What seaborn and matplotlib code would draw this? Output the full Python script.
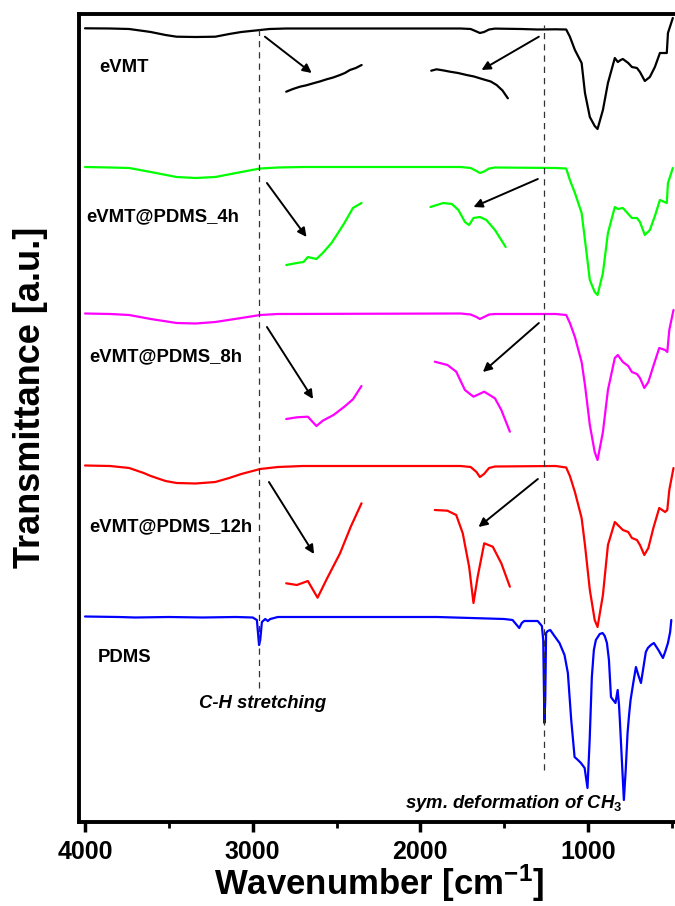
import matplotlib
matplotlib.use("Agg")
import matplotlib.pyplot as plt
import pandas as pd
import seaborn as sns
from matplotlib.ticker import MultipleLocator

# ---------------------------------------------------------------- data
samples = ["eVMT", "eVMT@PDMS_4h", "eVMT@PDMS_8h", "eVMT@PDMS_12h", "PDMS"]
colors = ["#000000", "#00FF00", "#FF00FF", "#FF0000", "#0000FF"]
# vertical stacking of the spectra (a.u.)
offsets = [793.5, 655, 508, 356, 205]

# full spectra: wavenumber (cm-1) and transmittance relative to baseline (a.u.)
wn_evmt = [4000, 3850, 3737, 3650, 3608, 3520, 3454, 3340, 3223, 3140, 3068, 2955,
           2900, 2800, 2200, 1760, 1700, 1665, 1645, 1620, 1590, 1555, 1400, 1300,
           1193, 1130, 1108, 1078, 1038, 1018, 989, 960, 943, 911, 881, 840, 822,
           805, 792, 760, 738, 708, 690, 661, 631, 601, 571, 530, 523, 494]
t_evmt = [0.2, 0, -0.5, -2.5, -3.5, -6.5, -8.2, -8.5, -8.2, -5.5, -3.5, -1.5,
          -0.5, 0, 0, 0, -0.5, -3, -4.5, -3.5, -1, -0.1, -0.5, -1,
          -0.8, -1, -8.2, -21.5, -34.5, -64.5, -88.5, -97.5, -100.5, -81.5, -54.5, -29.5, -33.5,
          -31.5, -30.5, -34.5, -38.5, -39.5, -43.5, -52.5, -48.5, -38.5, -24.5, -24.5, -4.5, 10.5]

wn_4h = [4000, 3850, 3737, 3608, 3454, 3340, 3223, 3068, 2955, 2850, 2700, 1760,
         1700, 1665, 1645, 1620, 1590, 1555, 1193, 1130, 1108, 1078, 1038, 1018,
         989, 960, 943, 911, 881, 840, 822, 792, 738, 708, 690, 661, 631, 601,
         571, 530, 523, 494]
t_4h = [0, -0.5, -1, -5, -10, -11, -10, -5, -1.5, -0.5, 0, 0,
        -1, -4, -6, -4.5, -1.5, -0.5, -1, -1.5, -13, -26, -46, -73,
        -113, -125, -128, -106, -66, -40, -42, -41, -51, -51, -55, -68, -63, -49,
        -33, -36, -16, -1]

wn_8h = [4000, 3850, 3737, 3608, 3454, 3340, 3223, 3068, 2955, 2850, 1760, 1700,
         1665, 1645, 1620, 1590, 1555, 1193, 1130, 1108, 1078, 1038, 1018, 989,
         960, 943, 911, 881, 840, 822, 792, 760, 738, 708, 690, 664, 640, 610,
         575, 540, 527, 515, 490]
t_8h = [0.5, 0, -1, -5, -9, -9.5, -8, -4, -1, 0, 0.5, -0.5,
        -3, -5, -3, -0.5, 0, 0, -1, -9, -23, -48, -71, -111,
        -138, -146, -118, -76, -44, -41, -48, -52, -58, -60, -64, -74, -68, -52,
        -34, -36, -38, -16, 4]

wn_12h = [4000, 3850, 3737, 3650, 3608, 3520, 3454, 3340, 3223, 3140, 3068, 2955,
          2850, 2700, 1760, 1700, 1665, 1645, 1620, 1590, 1555, 1193, 1130, 1108,
          1078, 1038, 1018, 989, 960, 943, 911, 881, 840, 822, 792, 760, 738,
          708, 690, 664, 640, 610, 575, 540, 527, 515, 490]
t_12h = [0.5, 0, -2, -7, -10, -15, -17, -17.5, -16, -12, -8, -3,
         -1, 0, 0, -1, -6, -11, -8, -2, -0.5, 0, -1.5, -10,
         -26, -52, -79, -124, -154, -161, -129, -79, -56, -59, -64, -66, -72,
         -74, -79, -89, -82, -62, -42, -46, -44, -24, -2]

wn_pdms = [4000, 3800, 3700, 3500, 3300, 3100, 3000, 2975, 2962, 2955, 2945, 2925,
           2910, 2895, 2850, 2500, 2200, 1900, 1800, 1700, 1600, 1500, 1450, 1420,
           1410, 1395, 1380, 1300, 1275, 1267, 1260, 1255, 1250, 1240, 1225, 1200,
           1170, 1140, 1120, 1100, 1080, 1060, 1042, 1020, 1003, 990, 977, 965,
           953, 930, 913, 900, 887, 875, 863, 850, 836, 823, 815, 810, 798, 786,
           775, 764, 755, 746, 730, 714, 700, 684, 670, 655, 643, 625, 607, 580,
           553, 540, 523, 510, 503]
t_pdms = [0.5, 0, -0.5, 0, -0.5, 0, -0.5, -3, -28, -23, -5, -2,
          -4, -2, 0, 0, 0, 0, -0.5, -1, -1.5, -2, -3, -9,
          -11, -6, -4, -4, -9, -23, -106, -83, -16, -14, -13, -19,
          -26, -38, -56, -103, -140, -143, -146, -151, -171, -123, -60, -33,
          -23, -17, -16, -19, -26, -43, -80, -83, -86, -73, -88, -103, -143, -183,
          -153, -116, -98, -83, -66, -50, -58, -66, -51, -35, -31, -28, -26, -33,
          -41, -35, -26, -15, -3]

# magnified segments (C-H region and 1950-1450 cm-1 region), same baselines
zoomA_wn_evmt = [2800, 2760, 2718, 2680, 2639, 2600, 2559, 2520, 2479, 2450, 2420, 2385, 2350]
zoomA_t_evmt = [-63.2, -60.5, -58.2, -56.8, -54.8, -53.0, -50.8, -49.0, -46.5, -44.5, -41.5, -39.5, -36.5]
zoomB_wn_evmt = [1935, 1903, 1860, 1823, 1775, 1724, 1680, 1625, 1580, 1545, 1510, 1478]
zoomB_t_evmt = [-42.2, -40.8, -42.0, -43.2, -44.5, -46.5, -48.0, -50.8, -53.0, -56.5, -62.0, -69.8]

zoomA_wn_4h = [2800, 2736, 2697, 2671, 2646, 2620, 2582, 2530, 2491, 2453, 2402, 2351]
zoomA_t_4h = [-98, -96, -95, -90, -91, -92, -86, -76, -66, -56, -41, -36]
zoomB_wn_4h = [1940, 1863, 1812, 1773, 1734, 1709, 1683, 1645, 1606, 1555, 1491]
zoomB_t_4h = [-40, -36, -37, -43, -55, -58, -51, -50, -53, -63, -80]

zoomA_wn_8h = [2800, 2736, 2671, 2620, 2582, 2518, 2453, 2402, 2351]
zoomA_t_8h = [-105, -103.3, -102.7, -112, -106.7, -101, -92.7, -85.3, -72]
zoomB_wn_8h = [1914, 1838, 1786, 1734, 1683, 1619, 1555, 1517, 1466]
zoomB_t_8h = [-47.7, -51, -57.7, -76, -82.7, -77.7, -84.3, -96, -117.7]

zoomA_wn_12h = [2800, 2736, 2671, 2613, 2556, 2479, 2415, 2351]
zoomA_t_12h = [-117.3, -119, -115, -131.7, -112.3, -87.3, -60.7, -37.3]
zoomB_wn_12h = [1914, 1838, 1786, 1747, 1709, 1683, 1658, 1619, 1568, 1517, 1466]
zoomB_t_12h = [-44, -44.7, -49, -67.3, -100.7, -137, -110.7, -77.3, -80.7, -97.3, -120.7]

# band positions marked with dashed guides
band_ch = 2960
band_ch3 = 1260

# ---------------------------------------------------------------- frames
spectra = [(wn_evmt, t_evmt), (wn_4h, t_4h), (wn_8h, t_8h), (wn_12h, t_12h), (wn_pdms, t_pdms)]
rows = []
for name, off, (w, t) in zip(samples, offsets, spectra):
    for xi, yi in zip(w, t):
        rows.append({"sample": name, "wavenumber": xi, "signal": off + yi})
df = pd.DataFrame(rows)

zooms = {
    "eVMT": [(zoomA_wn_evmt, zoomA_t_evmt), (zoomB_wn_evmt, zoomB_t_evmt)],
    "eVMT@PDMS_4h": [(zoomA_wn_4h, zoomA_t_4h), (zoomB_wn_4h, zoomB_t_4h)],
    "eVMT@PDMS_8h": [(zoomA_wn_8h, zoomA_t_8h), (zoomB_wn_8h, zoomB_t_8h)],
    "eVMT@PDMS_12h": [(zoomA_wn_12h, zoomA_t_12h), (zoomB_wn_12h, zoomB_t_12h)],
}
zrows = []
for name, segs in zooms.items():
    off = offsets[samples.index(name)]
    for k, (w, t) in enumerate(segs):
        for xi, yi in zip(w, t):
            zrows.append({"sample": name, "segment": f"{name}-{k}",
                          "wavenumber": xi, "signal": off + yi})
dz = pd.DataFrame(zrows)

# ---------------------------------------------------------------- style
sns.set_style("white")
plt.rcParams["font.family"] = ["Liberation Sans", "DejaVu Sans"]
plt.rcParams["text.color"] = "black"
plt.rcParams["axes.labelcolor"] = "black"
plt.rcParams["xtick.color"] = "black"
plt.rcParams["mathtext.fontset"] = "custom"
plt.rcParams["mathtext.rm"] = "Liberation Sans:bold"
plt.rcParams["mathtext.bf"] = "Liberation Sans:bold"
plt.rcParams["mathtext.it"] = "Liberation Sans:bold:italic"

palette = dict(zip(samples, colors))

fig = plt.figure(figsize=(6.75, 9.06), dpi=100)
ax = fig.add_axes([79 / 675, 84 / 906, 1 - 79 / 675, 808 / 906])

sns.lineplot(data=df, x="wavenumber", y="signal", hue="sample", palette=palette,
             estimator=None, units="sample", sort=True, linewidth=1.6,
             legend=False, ax=ax)
sns.lineplot(data=dz, x="wavenumber", y="signal", hue="sample", palette=palette,
             estimator=None, units="segment", sort=True, linewidth=1.6,
             legend=False, ax=ax)

ax.set_xlim(4036, 481)
ax.set_ylim(0, 808)

# dashed guides for the PDMS bands
ax.plot([band_ch, band_ch], [134, 797], color="#333333", lw=0.9, ls=(0, (5, 4)))
ax.plot([band_ch3, band_ch3], [52, 797], color="#333333", lw=0.9, ls=(0, (5, 4)))

# arrows pointing at the magnified segments: (tail, head) relative to baseline
arrows_left = [((2927, -8.2), (2648, -44.5)), ((2915, -16), (2679, -70)),
               ((2915, -13), (2640, -85)), ((2903, -16), (2634, -88))]
arrows_right = [((1293, -8.2), (1635, -41.5)), ((1299, -12), (1683, -40)),
                ((1293, -9), (1627, -58)), ((1299, -13), (1653, -61))]
for off, a, b in zip(offsets, arrows_left, arrows_right):
    for (tx, ty), (hx, hy) in (a, b):
        ax.annotate("", xy=(hx, off + hy), xytext=(tx, off + ty),
                    arrowprops=dict(arrowstyle="-|>", color="black", lw=1.4,
                                    mutation_scale=13, shrinkA=0, shrinkB=0))

# sample names
name_pos = [(3917, 755), (3994, 605), (3973, 465), (3973, 295), (3922, 165)]
for name, (x, y) in zip(samples, name_pos):
    ax.text(x, y, name, ha="left", va="center", fontsize=13.3, fontweight="bold",
            color="black")

ax.text(3320, 118, "C-H stretching", ha="left", va="center", fontsize=13.3,
        fontweight="bold", style="italic", color="black")
ax.text(2089, 18, r"sym. deformation of CH$_{3}$", ha="left", va="center",
        fontsize=13.3, fontweight="bold", style="italic", color="black")

# axes frame and ticks
for side in ("left", "bottom", "top"):
    ax.spines[side].set_linewidth(2.8)
    ax.spines[side].set_color("black")
ax.spines["right"].set_visible(False)

ax.xaxis.set_major_locator(MultipleLocator(1000))
ax.xaxis.set_minor_locator(MultipleLocator(500))
ax.tick_params(axis="x", which="major", direction="out", length=7, width=2.5,
               labelsize=18, pad=6, bottom=True, colors="black")
ax.tick_params(axis="x", which="minor", direction="out", length=4, width=2.0,
               bottom=True, colors="black")
ax.set_yticks([])
for lab in ax.get_xticklabels():
    lab.set_fontweight("bold")

ax.set_xlabel("")
ax.set_ylabel("")
fig.text(379 / 675, 1 - 883 / 906, r"Wavenumber [cm$^{\mathbf{-1}}$]", fontsize=25,
         fontweight="bold", ha="center", va="center", color="black")
fig.text(31 / 675, 1 - 397 / 906, "Transmittance [a.u.]", fontsize=26,
         fontweight="bold", ha="center", va="center", rotation=90, color="black")

fig.savefig("out.png", dpi=100)
